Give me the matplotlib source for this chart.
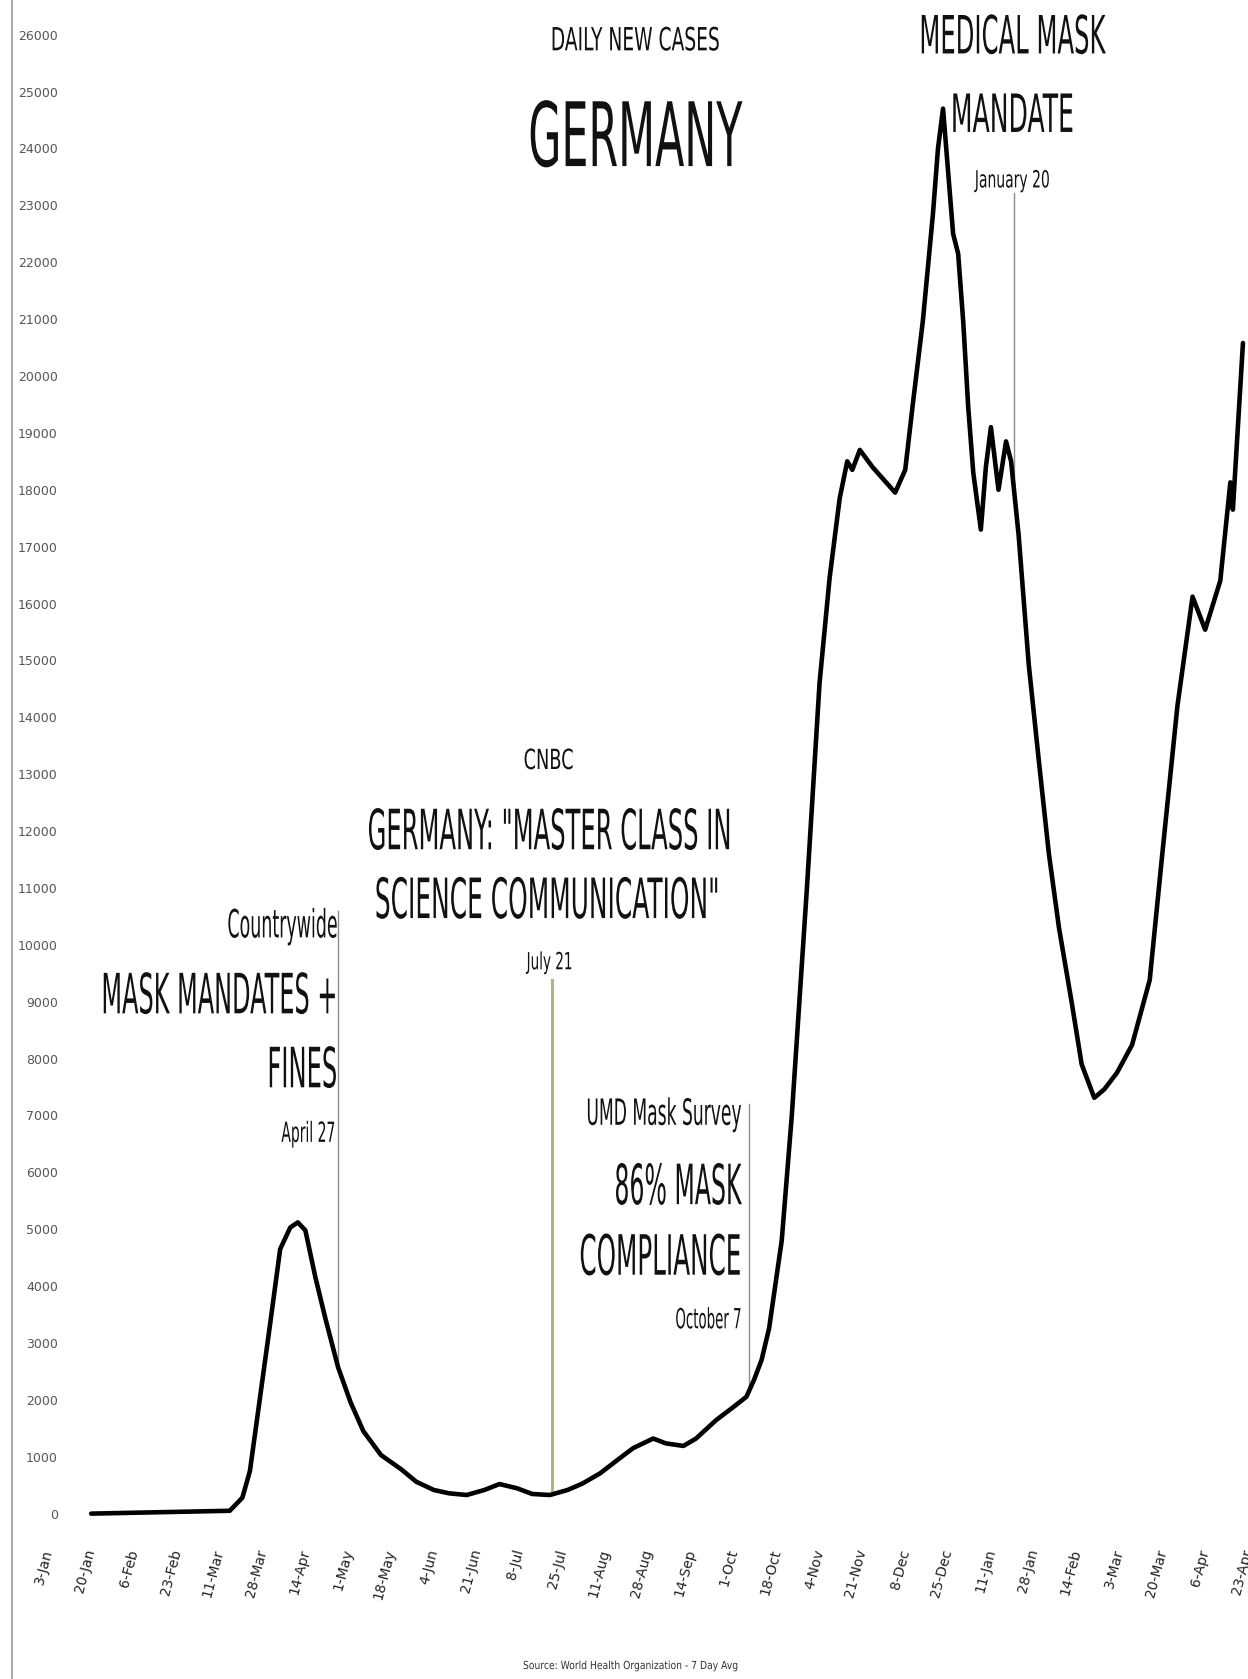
import numpy as np
import pandas as pd
import matplotlib
matplotlib.use("Agg")
import matplotlib.pyplot as plt
import matplotlib.dates as mdates
from matplotlib import font_manager
from matplotlib.patheffects import AbstractPathEffect
from matplotlib.transforms import Affine2D, Bbox
from matplotlib.lines import Line2D
from matplotlib.text import Text

# ---------------- data ----------------
dates = [
    "2020-01-20", "2020-03-15", "2020-03-20", "2020-03-23", "2020-03-27", "2020-03-31",
    "2020-04-04", "2020-04-08", "2020-04-11", "2020-04-14", "2020-04-18", "2020-04-22",
    "2020-04-27", "2020-05-02", "2020-05-07", "2020-05-14", "2020-05-22", "2020-05-28",
    "2020-06-04", "2020-06-10", "2020-06-17", "2020-06-24", "2020-06-30", "2020-07-07",
    "2020-07-13", "2020-07-20", "2020-07-27", "2020-08-02", "2020-08-09", "2020-08-15",
    "2020-08-22", "2020-08-30", "2020-09-04", "2020-09-11", "2020-09-16", "2020-09-24",
    "2020-10-01", "2020-10-06", "2020-10-09", "2020-10-12", "2020-10-15", "2020-10-20",
    "2020-10-24", "2020-10-30", "2020-11-04", "2020-11-08", "2020-11-12", "2020-11-15",
    "2020-11-17", "2020-11-20", "2020-11-25", "2020-12-04", "2020-12-08", "2020-12-11",
    "2020-12-15", "2020-12-19", "2020-12-21", "2020-12-23", "2020-12-25", "2020-12-27",
    "2020-12-29", "2020-12-31", "2021-01-02", "2021-01-04", "2021-01-07", "2021-01-09",
    "2021-01-11", "2021-01-14", "2021-01-17", "2021-01-19", "2021-01-22", "2021-01-26",
    "2021-01-30", "2021-02-03", "2021-02-07", "2021-02-12", "2021-02-16", "2021-02-21",
    "2021-02-25", "2021-03-02", "2021-03-08", "2021-03-15", "2021-03-20", "2021-03-26",
    "2021-04-01", "2021-04-06", "2021-04-12", "2021-04-16", "2021-04-17", "2021-04-21",
]
cases = [
    0, 50, 280, 750, 2040, 3330,
    4650, 5030, 5120, 4980, 4150, 3420,
    2570, 1950, 1450, 1030, 780, 560,
    415, 357, 327, 415, 520, 445,
    345, 327, 415, 530, 710, 915,
    1150, 1320, 1235, 1190, 1320, 1645,
    1880, 2055, 2350, 2700, 3260, 4800,
    7000, 11000, 14600, 16450, 17850, 18500,
    18350, 18700, 18400, 17950, 18350, 19500,
    20970, 22850, 24000, 24700, 23600, 22500,
    22150, 20960, 19450, 18300, 17300, 18400,
    19100, 18000, 18850, 18500, 17200, 14930,
    13240, 11600, 10300, 9000, 7900, 7310,
    7460, 7750, 8240, 9380, 11600, 14200,
    16120, 15540, 16400, 18130, 17650, 20580,
]
tick_labels = ["3-Jan", "20-Jan", "6-Feb", "23-Feb", "11-Mar", "28-Mar", "14-Apr",
               "1-May", "18-May", "4-Jun", "21-Jun", "8-Jul", "25-Jul", "11-Aug",
               "28-Aug", "14-Sep", "1-Oct", "18-Oct", "4-Nov", "21-Nov", "8-Dec",
               "25-Dec", "11-Jan", "28-Jan", "14-Feb", "3-Mar", "20-Mar", "6-Apr",
               "23-Apr"]
y_ticks = list(range(0, 26001, 1000))
event_dates = ["2020-04-27", "2020-07-21", "2020-10-07", "2021-01-20"]

# ---------------- fonts ----------------
names = {f.name for f in font_manager.fontManager.ttflist}
FONT = "Liberation Sans Narrow" if "Liberation Sans Narrow" in names else "DejaVu Sans"
plt.rcParams["font.family"] = [FONT, "DejaVu Sans"]


class CText(Text):
    """A Text drawn horizontally condensed about its anchor point."""
    sx = 1.0

    def anchor_x(self):
        return self.get_transform().transform(self.get_position())[0]

    def get_window_extent(self, renderer=None, dpi=None):
        bb = super().get_window_extent(renderer, dpi)
        if self.sx == 1.0:
            return bb
        x0 = self.anchor_x()
        return Bbox([[x0 + self.sx * (bb.x0 - x0), bb.y0],
                     [x0 + self.sx * (bb.x1 - x0), bb.y1]])


class Condense(AbstractPathEffect):
    def __init__(self, text):
        super().__init__()
        self.text = text

    def draw_path(self, renderer, gc, tpath, affine, rgbFace=None):
        x0 = self.text.anchor_x()
        sx = self.text.sx
        t = affine + Affine2D().translate(-x0, 0).scale(sx, 1).translate(x0, 0)
        renderer.draw_path(gc, tpath, t, rgbFace)


W, H = 1248, 1679
fig = plt.figure(figsize=(W / 100, H / 100), dpi=100)
fig.patch.set_facecolor("white")
ax = fig.add_axes([12 / W, (H - 1530) / H, (W - 12) / W, 1525 / H])
ax.set_facecolor("white")

x = pd.to_datetime(dates)
base = mdates.date2num(np.datetime64("2020-01-03"))
xnum = mdates.date2num(x)
ax.plot(xnum, cases, color="black", lw=3.3, solid_joinstyle="round",
        solid_capstyle="round", zorder=5)

ax.set_xlim(base - 14.4, base + 476.0)
ax.set_ylim(-288, 26522)

# ticks
tick_pos = base + 17 * np.arange(len(tick_labels))
ax.set_xticks(tick_pos)
ax.set_xticklabels(tick_labels, rotation=75, ha="right", va="center",
                   rotation_mode="anchor", fontsize=10, color="#222222")
ax.tick_params(axis="x", length=0, pad=14)
ax.set_yticks(y_ticks)
ax.set_yticklabels([str(v) for v in y_ticks], fontsize=9, color="#555555")
ax.tick_params(axis="y", length=0, pad=-33)
for s in ax.spines.values():
    s.set_visible(False)
fig.add_artist(Line2D([12 / W, 12 / W], [0, 1], transform=fig.transFigure,
                      color="#9a9a9a", lw=1.2))

# event lines
ev_num = mdates.date2num(pd.to_datetime(event_dates))
ev_top = [10600, 9380, 7210, 23220]
ev_col = ["#8c8c8c", "#b4b482", "#8c8c8c", "#8c8c8c"]
ev_lw = [1.0, 2.2, 1.0, 1.0]
for xe, top, c, lw in zip(ev_num, ev_top, ev_col, ev_lw):
    bottom = np.interp(xe, xnum, cases)
    ax.plot([xe, xe], [bottom, top], color=c, lw=lw, zorder=3)

# annotations: text, day offset, baseline value, fontsize, target width px, ha
ann = [
    ("DAILY NEW CASES", 232.9, 25725, 23, 169, "center"),
    ("GERMANY", 232.9, 23690, 64, 214, "center"),
    ("MEDICAL MASK", 382.5, 25670, 38, 186, "center"),
    ("MANDATE", 382.5, 24290, 38, 123, "center"),
    ("January 20", 382.5, 23315, 17, 75, "center"),
    ("CNBC", 198.5, 13090, 20, 50, "center"),
    ("GERMANY: \"MASTER CLASS IN", 198.9, 11680, 40, 364, "center"),
    ("SCIENCE COMMUNICATION\"", 198.0, 10470, 40, 345, "center"),
    ("July 21", 198.9, 9570, 17, 46, "center"),
    ("Countrywide", 114.7, 10130, 28, 110, "right"),
    ("MASK MANDATES +", 114.7, 8795, 40, 236, "right"),
    ("FINES", 114.7, 7495, 40, 70, "right"),
    ("April 27", 113.9, 6535, 20, 54, "right"),
    ("UMD Mask Survey", 275.0, 6836, 26, 155, "right"),
    ("86% MASK", 275.0, 5440, 40, 127, "right"),
    ("COMPLIANCE", 275.0, 4200, 40, 162, "right"),
    ("October 7", 275.0, 3258, 20, 66, "right"),
]
items = []
for txt, d, yv, fs, wpx, ha in ann:
    t = CText(base + d, yv, txt, ha=ha, va="baseline", fontsize=fs,
              color="#111111", zorder=6)
    ax.add_artist(t)
    t.set_path_effects([Condense(t)])
    items.append((t, wpx))

src = CText(631 / W, 1 - 1666 / H, "Source: World Health Organization - 7 Day Avg",
            ha="center", va="center", fontsize=8, color="#333333",
            transform=fig.transFigure)
fig.add_artist(src)
src.set_path_effects([Condense(src)])
items.append((src, 216))

fig.canvas.draw()
for t, wpx in items:
    w = t.get_window_extent().width
    if w > 0:
        t.sx = wpx / w

fig.savefig("out.png", dpi=100, facecolor="white")
